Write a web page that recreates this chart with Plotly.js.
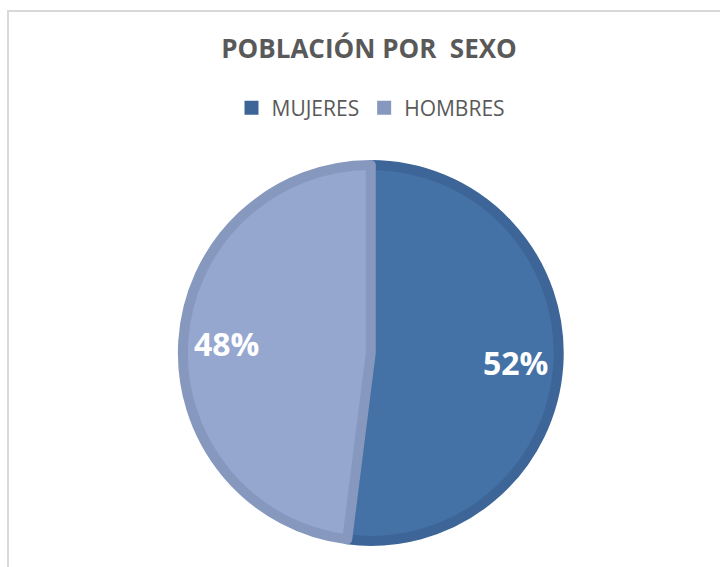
<!DOCTYPE html>
<html>
<head>
<meta charset="utf-8">
<script src="https://cdn.plot.ly/plotly-3.0.1.min.js"></script>
<style>
  html, body { margin: 0; padding: 0; background: #fff; }
  #wrap { position: relative; width: 720px; height: 567px; overflow: hidden; }
  #chart { position: absolute; left: 0; top: 0; width: 720px; height: 567px; }
  #frame { position: absolute; left: 7px; top: 10px; width: 800px; height: 700px;
           border-left: 2px solid #d9d9d9; border-top: 2px solid #d9d9d9; pointer-events: none; }
</style>
</head>
<body>
<div id="wrap">
  <div id="chart"></div>
  <div id="frame"></div>
</div>
<script>
const categories = ['MUJERES', 'HOMBRES'];
const percentages = [52, 48];
const fillColors = ['#4472A6', '#95A7CF'];
const borderColors = ['#3D6597', '#8698BE'];
const chartTitle = 'POBLACIÓN POR\u00a0\u00a0SEXO';

const W = 720, H = 567;
const domainX = [0.254, 0.776];
const domainY = [0.046, 0.709];
const lineW = 10;

// legend carrier (solid border colour), fully covered by the main pie
const legendTrace = {
  type: 'pie',
  labels: categories,
  values: percentages,
  sort: false,
  direction: 'clockwise',
  rotation: 0,
  textinfo: 'none',
  marker: { colors: borderColors, line: { color: borderColors, width: 2 } },
  domain: { x: domainX, y: domainY },
  showlegend: true,
  hoverinfo: 'skip'
};

const mainTrace = {
  type: 'pie',
  labels: categories,
  values: percentages,
  sort: false,
  direction: 'clockwise',
  rotation: 0,
  textinfo: 'none',
  marker: { colors: fillColors, line: { color: borderColors, width: lineW } },
  domain: { x: domainX, y: domainY },
  showlegend: false,
  hoverinfo: 'label+percent'
};

// percentage labels placed along each slice's mid-angle at 0.77 of the outer radius
const total = percentages.reduce((a, b) => a + b, 0);
const cxPx = (domainX[0] + domainX[1]) / 2 * W;
const cyPx = (1 - (domainY[0] + domainY[1]) / 2) * H;
const rPx = Math.min((domainX[1] - domainX[0]) * W, (domainY[1] - domainY[0]) * H) / 2;
const annotations = [];
let cum = 0;
percentages.forEach((v, i) => {
  const mid = (cum + v / 2) / total * 2 * Math.PI;
  cum += v;
  const rr = rPx * 0.77;
  const px = cxPx + rr * Math.sin(mid);
  const py = cyPx - rr * Math.cos(mid);
  annotations.push({
    xref: 'paper', yref: 'paper',
    x: px / W, y: 1 - py / H,
    xanchor: 'center', yanchor: 'middle',
    showarrow: false,
    text: '<b>' + Math.round(v / total * 100) + '%</b>',
    font: { family: 'Open Sans, sans-serif', size: 32, color: '#ffffff' }
  });
});

const layout = {
  width: W,
  height: H,
  margin: { l: 0, r: 0, t: 0, b: 0 },
  paper_bgcolor: '#ffffff',
  title: {
    text: '<b>' + chartTitle + '</b>',
    x: 369 / W, xanchor: 'center',
    y: 1 - 49 / H, yanchor: 'middle',
    font: { family: 'Open Sans, sans-serif', size: 26, color: '#595959' }
  },
  showlegend: true,
  legend: {
    orientation: 'h',
    x: 371 / W, xanchor: 'center',
    y: 1 - 108 / H, yanchor: 'middle',
    font: { family: 'Open Sans, sans-serif', size: 21, color: '#595959' },
    itemwidth: 30,
    traceorder: 'normal'
  },
  annotations: annotations
};

Plotly.newPlot('chart', [legendTrace, mainTrace], layout, { displayModeBar: false, staticPlot: true });
</script>
</body>
</html>
